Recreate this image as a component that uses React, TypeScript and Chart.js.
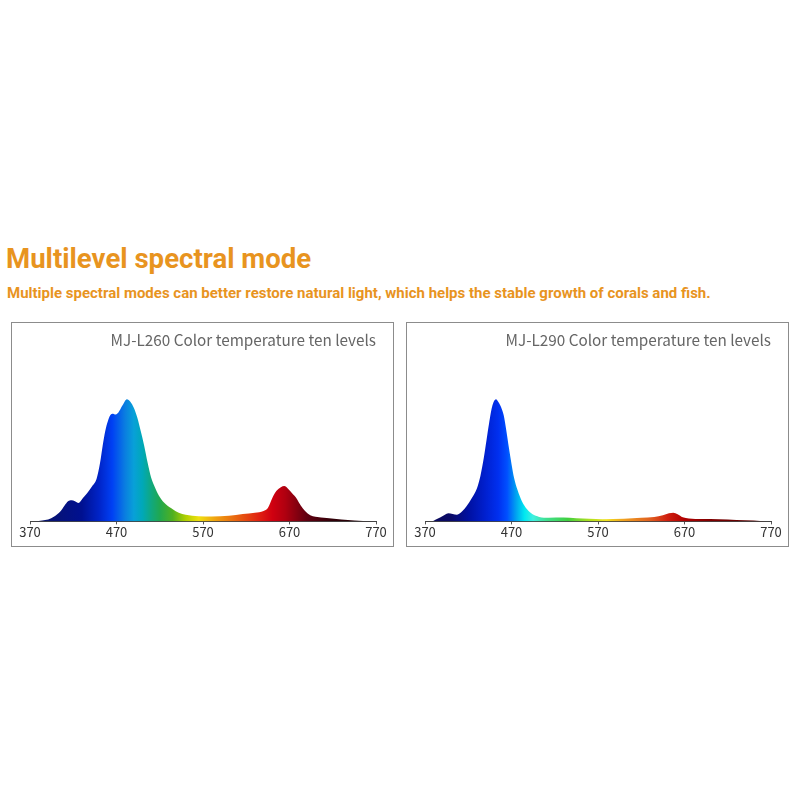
import React, { useEffect, useRef } from "react";
import { Chart, registerables } from "chart.js";

Chart.register(...registerables);

const HEADLINE = "Multilevel spectral mode";
const SUBTITLE =
  "Multiple spectral modes can better restore natural light, which helps the stable growth of corals and fish.";

const TICKS = [370, 470, 570, 670, 770];

const L260_TITLE = "MJ-L260 Color temperature ten levels";
const L260_WL = [370, 376, 384, 391, 398, 405, 410, 414, 418, 422, 426, 431, 436, 442, 447, 451, 454, 457, 460, 463, 466, 468, 472, 477, 482, 486, 490, 494, 498, 502, 506, 510, 515, 520, 527, 535, 542, 550, 565, 580, 600, 616, 630, 640, 645, 650, 655, 660, 664, 668, 673, 678, 683, 688, 694, 700, 713, 730, 745, 755, 770];
const L260_VAL = [0, 0, 0.8, 1.5, 4, 8, 13, 16.5, 17.4, 16.5, 15, 19, 23, 29, 35, 48, 62, 74, 82, 87, 88, 87.5, 89, 95, 100, 98, 93, 85, 74, 62, 48, 36, 27, 20, 14, 10, 7, 5.5, 4.2, 4, 4.6, 6, 7, 8.5, 11, 19, 25, 28, 29, 27, 23, 19, 13, 8.5, 5, 3.8, 2.7, 1.6, 0.8, 0.3, 0];
const L260_STOP_WL = [380, 430, 450, 465, 480, 490, 500, 510, 520, 535, 550, 565, 585, 610, 635, 650, 665, 690, 720, 770];
const L260_STOP_COL = ["#0a1468", "#001090", "#0024c8", "#0040f4", "#0a7ee0", "#08a0d8", "#00a8b8", "#10a880", "#20a850", "#50b020", "#b0d000", "#f0e010", "#f0a010", "#e86010", "#e02010", "#d00010", "#b00010", "#600010", "#300008", "#200005"];

const L290_TITLE = "MJ-L290 Color temperature ten levels";
const L290_WL = [370, 378, 382, 388, 393, 397, 402, 407, 413, 418, 424, 430, 434, 438, 441, 444, 448, 452, 455, 458, 461, 464, 467, 470, 473, 477, 482, 488, 494, 502, 513, 530, 545, 560, 575, 600, 620, 635, 645, 652, 657, 662, 668, 675, 690, 710, 730, 750, 765, 770];
const L290_VAL = [0, 0, 1.4, 3.3, 5.5, 6.6, 6, 5.5, 8.3, 12.4, 19, 27, 37, 52, 66, 80, 95, 100, 97.5, 93.4, 86.8, 74.4, 60.3, 47, 35.5, 25.6, 16.5, 9.9, 6, 3.7, 2.9, 3.1, 2.6, 2.1, 1.7, 2.1, 2.9, 3.7, 5, 6.6, 7, 5.8, 3.3, 2.3, 1.9, 1.7, 1.2, 0.7, 0, 0];
const L290_STOP_WL = [380, 400, 420, 440, 455, 465, 475, 485, 495, 510, 535, 560, 580, 600, 630, 650, 670, 700, 740, 770];
const L290_STOP_COL = ["#0a0a5c", "#0a0a68", "#0010a0", "#0020d0", "#0030f0", "#0050ff", "#00a0f0", "#00e8f0", "#40f0e0", "#40e090", "#40d040", "#b0e020", "#f0e020", "#f0a020", "#e06020", "#d02010", "#b00000", "#800000", "#600000", "#500000"];

const Y_MAX = 124;
const ORANGE = "#E8941F";

type PanelProps = {
  title: string;
  wl: number[];
  val: number[];
  stopWl: number[];
  stopCol: string[];
};

function SpectrumPanel({ title, wl, val, stopWl, stopCol }: PanelProps) {
  const ref = useRef<HTMLCanvasElement | null>(null);
  useEffect(() => {
    if (!ref.current) return;
    const chart = new Chart(ref.current, {
      type: "line",
      data: {
        datasets: [
          {
            data: wl.map((x, i) => ({ x, y: val[i] })),
            fill: "origin",
            borderWidth: 0,
            pointRadius: 0,
            cubicInterpolationMode: "monotone",
            backgroundColor: (ctx: any) => {
              const c = ctx.chart;
              const area = c.chartArea;
              if (!area) return "#0040f0";
              const xs = c.scales.x;
              const g = c.ctx.createLinearGradient(area.left, 0, area.right, 0);
              const w = area.right - area.left;
              stopWl.forEach((s, i) => {
                const p = (xs.getPixelForValue(s) - area.left) / w;
                g.addColorStop(Math.min(1, Math.max(0, p)), stopCol[i]);
              });
              return g;
            },
          },
        ],
      },
      options: {
        animation: false,
        responsive: false,
        maintainAspectRatio: false,
        layout: { padding: { left: 18, right: 16, top: 0, bottom: 5 } },
        plugins: {
          legend: { display: false },
          tooltip: { enabled: false },
          title: {
            display: true,
            text: title,
            align: "end",
            color: "#666666",
            font: { family: "'Noto Sans CJK SC', 'Noto Sans', sans-serif", size: 15.3, weight: "normal" as any },
            padding: { top: 7.5, bottom: 21 },
          },
        },
        scales: {
          x: {
            type: "linear",
            min: 370,
            max: 770,
            afterBuildTicks: (scale: any) => {
              scale.ticks = TICKS.map((v) => ({ value: v }));
            },
            grid: { display: true, drawOnChartArea: false, drawTicks: true, tickLength: 3, color: "#555555" },
            border: { display: true, color: "#444444", width: 1 },
            ticks: {
              color: "#333333",
              padding: 0,
              maxRotation: 0,
              autoSkip: false,
              font: { family: "'Noto Sans CJK SC', 'Noto Sans', sans-serif", size: 13 },
            },
          },
          y: {
            display: false,
            min: 0,
            max: Y_MAX,
          },
        },
      },
    });
    return () => chart.destroy();
  }, [title, wl, val, stopWl, stopCol]);
  return <canvas ref={ref} width={380} height={222} style={{ display: "block" }} />;
}

export default function App() {
  const box = (left: number): React.CSSProperties => ({
    position: "absolute",
    left,
    top: 322,
    width: 383,
    height: 225,
    boxSizing: "border-box",
    border: "1.5px solid #8c8c8c",
    background: "#fff",
  });
  return (
    <div style={{ position: "fixed", left: 0, top: 0, width: 800, height: 800, background: "#ffffff" }}>
      <div
        style={{
          position: "absolute",
          left: 6,
          top: 242,
          fontFamily: "Roboto, 'Open Sans', sans-serif",
          fontWeight: 700,
          fontSize: 27.6,
          color: ORANGE,
          whiteSpace: "nowrap",
        }}
      >
        {HEADLINE}
      </div>
      <div
        style={{
          position: "absolute",
          left: 7,
          top: 284,
          fontFamily: "Roboto, 'Open Sans', sans-serif",
          fontWeight: 700,
          fontSize: 15,
          color: ORANGE,
          whiteSpace: "nowrap",
        }}
      >
        {SUBTITLE}
      </div>
      <div style={box(11)}>
        <SpectrumPanel title={L260_TITLE} wl={L260_WL} val={L260_VAL} stopWl={L260_STOP_WL} stopCol={L260_STOP_COL} />
      </div>
      <div style={box(406)}>
        <SpectrumPanel title={L290_TITLE} wl={L290_WL} val={L290_VAL} stopWl={L290_STOP_WL} stopCol={L290_STOP_COL} />
      </div>
    </div>
  );
}
